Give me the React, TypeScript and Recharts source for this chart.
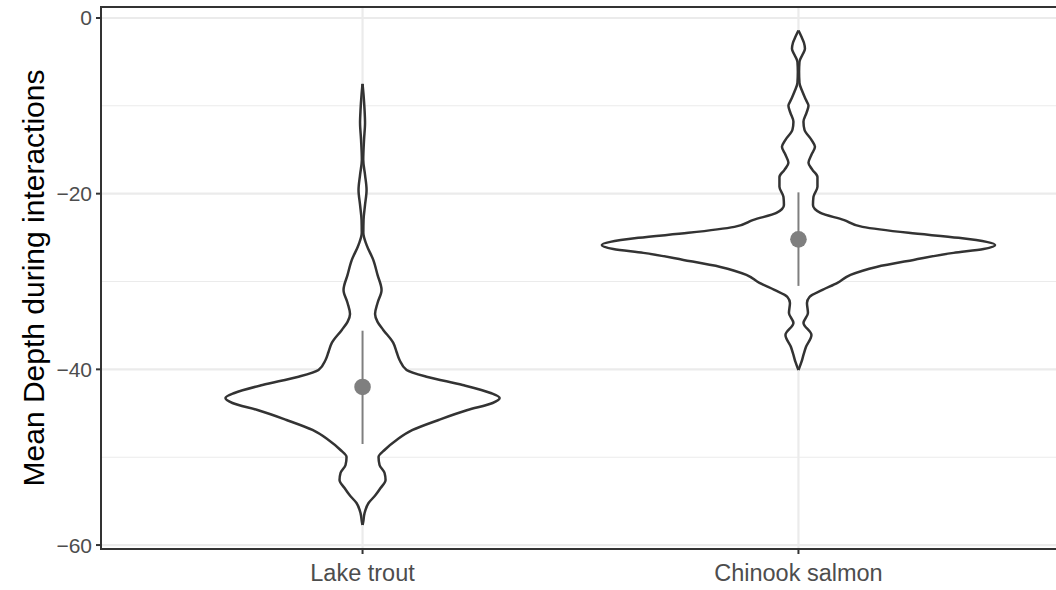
import React from 'react';
import {
  ComposedChart,
  Area,
  XAxis,
  YAxis,
  CartesianGrid,
  ReferenceDot,
  ReferenceLine,
  ReferenceArea,
} from 'recharts';

const species = ['Lake trout', 'Chinook salmon'];

// violin outlines: depth and half width (in x-axis units)
const lakeDepth = [
  -7.49, -8.75, -10.46, -11.94, -13.87, -16.15, -17.86, -19.57, -21.28, -22.98, -24.46,
  -25.83, -27.54, -29.25, -30.96, -32.44, -33.69, -34.6, -35.51, -36.99, -38.02, -38.93,
  -40.07, -40.87, -41.78, -42.69, -43.26, -43.83, -44.63, -45.76, -46.9, -48.04, -49.18,
  -49.97, -50.89, -51.8, -52.6, -53.51, -54.31, -55.22, -56.36, -57.49, -57.72,
];
const lakeHalf = [
  0, 0.0023, 0.0046, 0.0057, 0.0034, 0.0016, 0.0057, 0.0092, 0.0057, 0.0023, 0.0018,
  0.0092, 0.0246, 0.0344, 0.0436, 0.0344, 0.0287, 0.0344, 0.0475, 0.0705, 0.0781, 0.0849,
  0.101, 0.1492, 0.2296, 0.2938, 0.3145, 0.2984, 0.241, 0.1745, 0.1148, 0.0781, 0.0505,
  0.0367, 0.039, 0.0505, 0.0528, 0.0413, 0.0298, 0.0138, 0.0046, 0.0011, 0,
];

const chinookDepth = [
  -1.42, -2.14, -2.82, -3.51, -4.19, -4.99, -6.13, -7.38, -8.4, -9.32, -10.0, -10.8,
  -11.82, -12.73, -13.87, -14.67, -15.58, -16.49, -17.29, -18.09, -19.22, -20.36, -21.28,
  -22.19, -22.98, -23.78, -24.46, -25.03, -25.49, -25.83, -26.29, -26.74, -27.54, -28.34,
  -29.25, -30.16, -30.96, -31.76, -32.44, -33.58, -34.72, -36.08, -37.45, -38.36, -39.16,
  -40.07,
];
const chinookHalf = [
  0, 0.0069, 0.0126, 0.0149, 0.0092, 0.0023, 0.0014, 0.0023, 0.0092, 0.0172, 0.023, 0.0184,
  0.0115, 0.0138, 0.0298, 0.0379, 0.0298, 0.023, 0.0321, 0.0436, 0.0436, 0.0344, 0.0333,
  0.0505, 0.1033, 0.1469, 0.2525, 0.3673, 0.4316, 0.4511, 0.4247, 0.3558, 0.264, 0.1791,
  0.1194, 0.0895, 0.0551, 0.0253, 0.0195, 0.0218, 0.0115, 0.0298, 0.0172, 0.0115, 0.0069, 0,
];

// summary point + range per species
const medians = [-42.0, -25.2];
const upperQ = [-35.6, -19.85];
const lowerQ = [-48.5, -30.5];

const yTicks = [-60, -40, -20, 0];
const yMinor = [-50, -30, -10];
const yDomain = [-60.45, 1.25];
const xDomain = [0.4, 2.6];

const lakeRows = lakeDepth.map((d, i) => ({ depth: d, band: [1 - lakeHalf[i], 1 + lakeHalf[i]] }));
const chinookRows = chinookDepth.map((d, i) => ({
  depth: d,
  band: [2 - chinookHalf[i], 2 + chinookHalf[i]],
}));

const font = "'Liberation Sans', Arial, Helvetica, sans-serif";
const fmt = (v: number) => (v < 0 ? `\u2212${-v}` : `${v}`);

export default function App() {
  return (
    <div
      style={{
        position: 'absolute',
        left: 0,
        top: 0,
        width: 1056,
        height: 590,
        overflow: 'hidden',
        background: '#fff',
      }}
    >
      <ComposedChart
        layout="vertical"
        width={1070}
        height={590}
        margin={{ top: 7, right: 10, bottom: 0, left: 0 }}
      >
        <CartesianGrid horizontalValues={yMinor} vertical={false} stroke="#ebebeb" strokeWidth={1.1} />
        <CartesianGrid horizontalValues={yTicks} verticalValues={[1, 2]} stroke="#ebebeb" strokeWidth={2.2} />
        <XAxis
          type="number"
          domain={xDomain}
          ticks={[1, 2]}
          allowDataOverflow
          tickFormatter={(v: number) => species[v - 1]}
          axisLine={false}
          tickLine={{ stroke: '#333333', strokeWidth: 2 }}
          tickSize={5}
          tickMargin={10}
          height={41}
          tick={{ fill: '#4d4d4d', fontSize: 23.5, fontFamily: font }}
        />
        <YAxis
          type="number"
          dataKey="depth"
          domain={yDomain}
          reversed
          ticks={yTicks}
          allowDataOverflow
          tickFormatter={fmt}
          axisLine={false}
          tickLine={{ stroke: '#333333', strokeWidth: 2 }}
          tickSize={5}
          tickMargin={4}
          width={101}
          tick={{ fill: '#4d4d4d', fontSize: 21, fontFamily: font }}
          label={{
            value: 'Mean Depth during interactions',
            angle: -90,
            position: 'insideLeft',
            offset: 33,
            style: { textAnchor: 'middle', fill: '#000', fontSize: 30, fontFamily: font },
          }}
        />
        <Area
          data={lakeRows}
          dataKey="band"
          type="monotone"
          fill="#ffffff"
          fillOpacity={1}
          stroke="#333333"
          strokeWidth={2.5}
          isAnimationActive={false}
        />
        <Area
          data={chinookRows}
          dataKey="band"
          type="monotone"
          fill="#ffffff"
          fillOpacity={1}
          stroke="#333333"
          strokeWidth={2.5}
          isAnimationActive={false}
        />
        {species.map((s, i) => (
          <ReferenceLine
            key={`r-${s}`}
            segment={[
              { x: i + 1, y: upperQ[i] },
              { x: i + 1, y: lowerQ[i] },
            ]}
            stroke="#7f7f7f"
            strokeWidth={2}
          />
        ))}
        {species.map((s, i) => (
          <ReferenceDot key={`d-${s}`} x={i + 1} y={medians[i]} r={8.3} fill="#7f7f7f" stroke="none" />
        ))}
        <ReferenceArea
          x1={xDomain[0]}
          x2={xDomain[1]}
          y1={yDomain[0]}
          y2={yDomain[1]}
          fill="none"
          stroke="#333333"
          strokeWidth={2}
          ifOverflow="visible"
        />
      </ComposedChart>
    </div>
  );
}
